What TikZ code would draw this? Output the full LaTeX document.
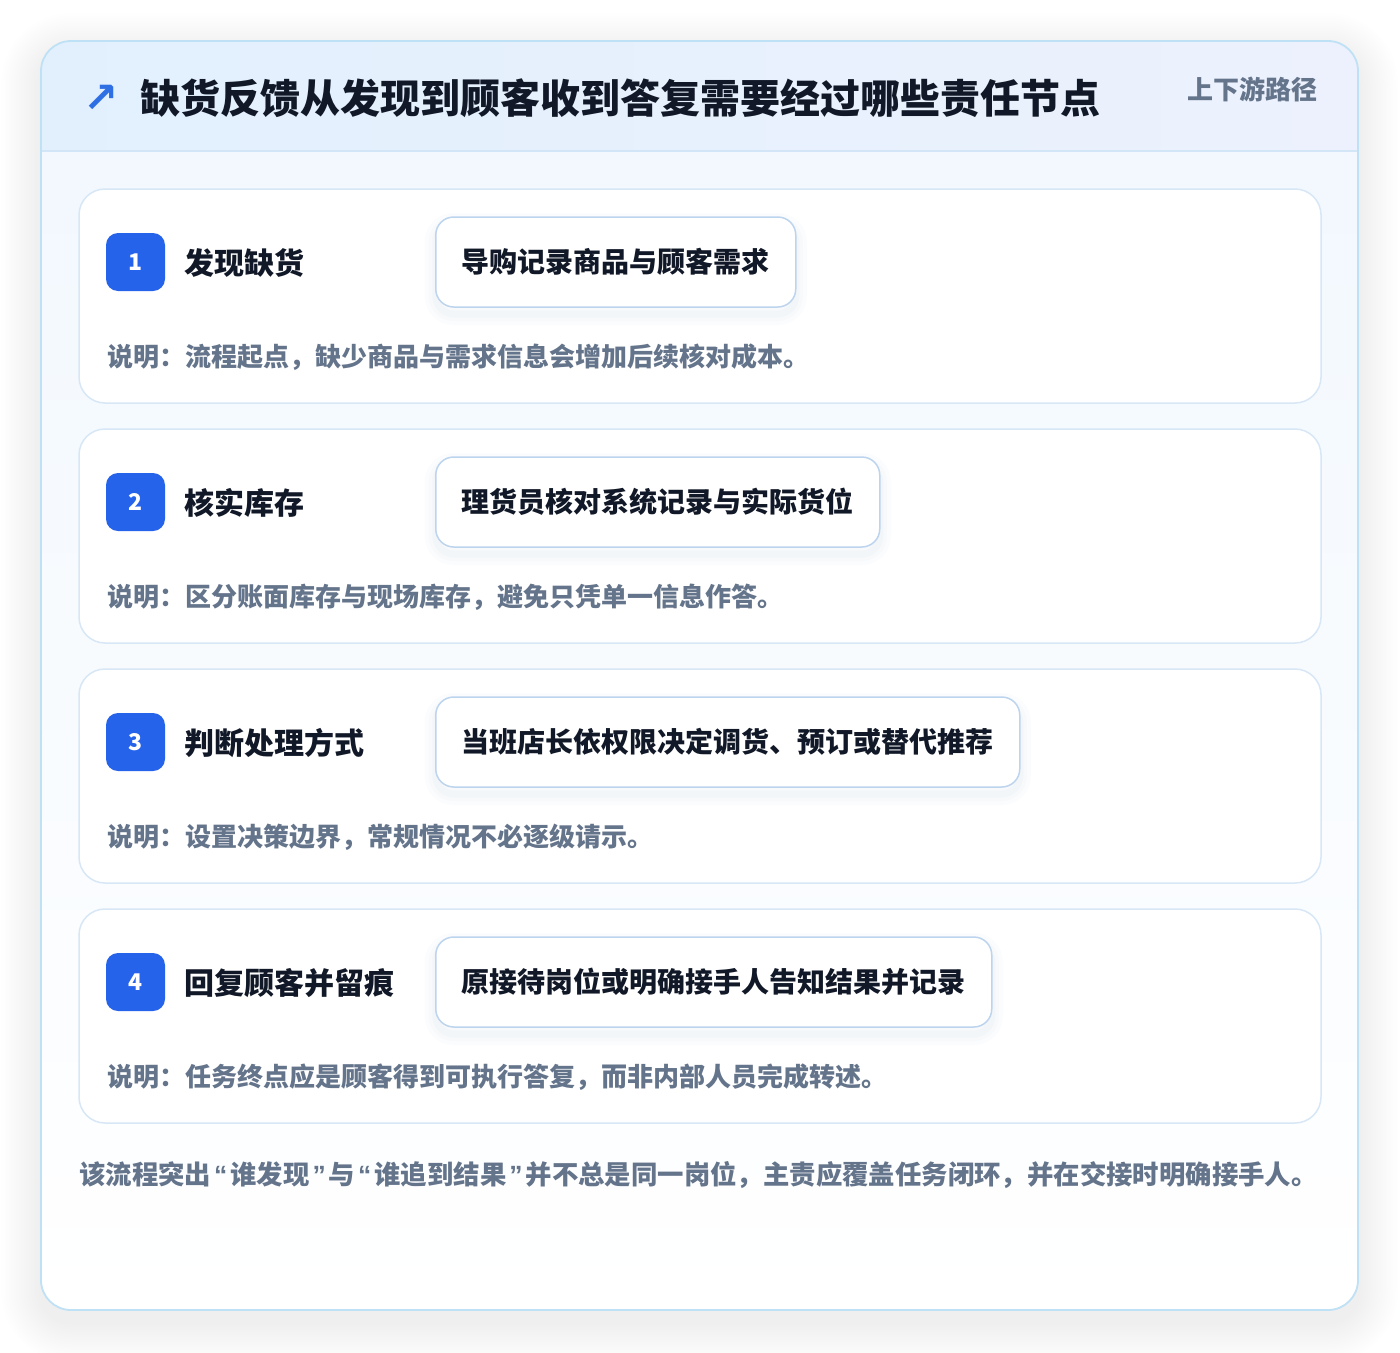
\documentclass[tikz,border=0pt]{standalone}
\usepackage{fontspec}
\setmainfont{Noto Sans CJK SC}
\newfontfamily\symfont{DejaVu Sans}
\newfontfamily\quotefont{Liberation Sans}

\definecolor{cardline}{HTML}{BFE1F5}
\definecolor{headleft}{HTML}{E2F0FD}
\definecolor{headright}{HTML}{ECF1FD}
\definecolor{headline}{HTML}{D2E6F8}
\definecolor{bodytop}{HTML}{F2F8FE}
\definecolor{stepline}{HTML}{D7E7F6}
\definecolor{actline}{HTML}{BDD4EF}
\definecolor{actshade}{HTML}{5B7BA8}
\definecolor{badgeblue}{HTML}{2563EB}
\definecolor{inkdark}{HTML}{111827}
\definecolor{inkgray}{HTML}{64748B}
\definecolor{arrowblue}{HTML}{2F6FE4}

\newcommand{\openq}{\kern3pt{\quotefont\bfseries “}\kern3pt}
\newcommand{\closeq}{\kern3pt{\quotefont\bfseries ”}\kern3pt}

\tikzset{
  stepcard/.style={draw=stepline, line width=1.5pt, fill=white, rounded corners=26pt,
    minimum width=1242pt, minimum height=214pt, inner sep=0pt},
  badge/.style={fill=badgeblue, rounded corners=12pt, minimum width=59pt, minimum height=58pt,
    text=white, font=\fontsize{23pt}{23pt}\selectfont\bfseries, inner sep=0pt},
  steptitle/.style={anchor=west, inner sep=0pt, text=inkdark,
    font=\fontsize{30pt}{30pt}\selectfont\bfseries},
  softshade/.style={preaction={draw=actshade, draw opacity=.018, line width=22pt,
      transform canvas={yshift=-7pt}},
    preaction={draw=actshade, draw opacity=.02, line width=14pt, transform canvas={yshift=-7pt}},
    preaction={draw=actshade, draw opacity=.025, line width=7pt, transform canvas={yshift=-7pt}}},
  actbox/.style={anchor=west, draw=actline, line width=1.5pt, fill=white, rounded corners=18pt,
    minimum height=90pt, inner xsep=26pt, text=inkdark,
    font=\fontsize{28pt}{28pt}\selectfont\bfseries, softshade},
  notetext/.style={anchor=west, inner sep=0pt, text=inkgray,
    font=\fontsize{26pt}{26pt}\selectfont\bfseries}
}

\begin{document}
\begin{tikzpicture}[x=1pt,y=-1pt]
\useasboundingbox (0,0) rectangle (1400,1352);
\fill[white] (0,0) rectangle (1400,1352);

% outer card with soft shadow
\foreach \k in {1,...,16}
  \fill[black, opacity=0.0055, rounded corners=30pt+\k*2.5pt]
    (41-\k*2.5,41-\k*2.5+12) rectangle (1358+\k*2.5,1310+\k*2.5+12);
\fill[white, rounded corners=30pt] (41,41) rectangle (1358,1310);
\begin{scope}
  \clip[rounded corners=30pt] (41,41) rectangle (1358,1310);
  \fill[top color=bodytop, bottom color=white] (41,151) rectangle (1358,1310);
  \fill[left color=headleft, right color=headright] (41,41) rectangle (1358,151);
  \draw[headline, line width=1.5pt] (41,151) -- (1358,151);
\end{scope}
\draw[cardline, line width=1.8pt, rounded corners=30pt] (41,41) rectangle (1358,1310);

% header
\node[text=arrowblue, inner sep=0pt, font=\symfont\bfseries\fontsize{42pt}{42pt}\selectfont] (icon) at (101,99) {↗};
\node[anchor=west, inner sep=0pt, text=inkdark, font=\fontsize{40pt}{40pt}\selectfont\bfseries]
  (title) at (140,98) {缺货反馈从发现到顾客收到答复需要经过哪些责任节点};
\node[anchor=east, inner sep=0pt, text=inkgray, font=\fontsize{26pt}{26pt}\selectfont\bfseries]
  (tag) at (1318,89) {上下游路径};

% steps
\foreach \i/\name/\act/\note in {
  1/{发现缺货}/{导购记录商品与顾客需求}/{说明：流程起点，缺少商品与需求信息会增加后续核对成本。},
  2/{核实库存}/{理货员核对系统记录与实际货位}/{说明：区分账面库存与现场库存，避免只凭单一信息作答。},
  3/{判断处理方式}/{当班店长依权限决定调货、预订或替代推荐}/{说明：设置决策边界，常规情况不必逐级请示。},
  4/{回复顾客并留痕}/{原接待岗位或明确接手人告知结果并记录}/{说明：任务终点应是顾客得到可执行答复，而非内部人员完成转述。}}
{
  \pgfmathsetmacro\top{189+240*(\i-1)}
  \node[stepcard] (card\i) at (700,\top+107) {};
  \node[badge] (badge\i) at (135.5,\top+73) {\i};
  \node[steptitle] (name\i) at (184,\top+74) {\name};
  \node[actbox] (act\i) at (435,\top+73) {\act};
  \node[notetext] (note\i) at (107,\top+168) {\note};
}

% closing remark
\node[notetext, font=\fontsize{26.4pt}{26.4pt}\selectfont\bfseries] (remark) at (79,1175)
  {该流程突出\openq 谁发现\closeq 与\openq 谁追到结果\closeq 并不总是同一岗位，主责应覆盖任务闭环，并在交接时明确接手人。};
\end{tikzpicture}
\end{document}
